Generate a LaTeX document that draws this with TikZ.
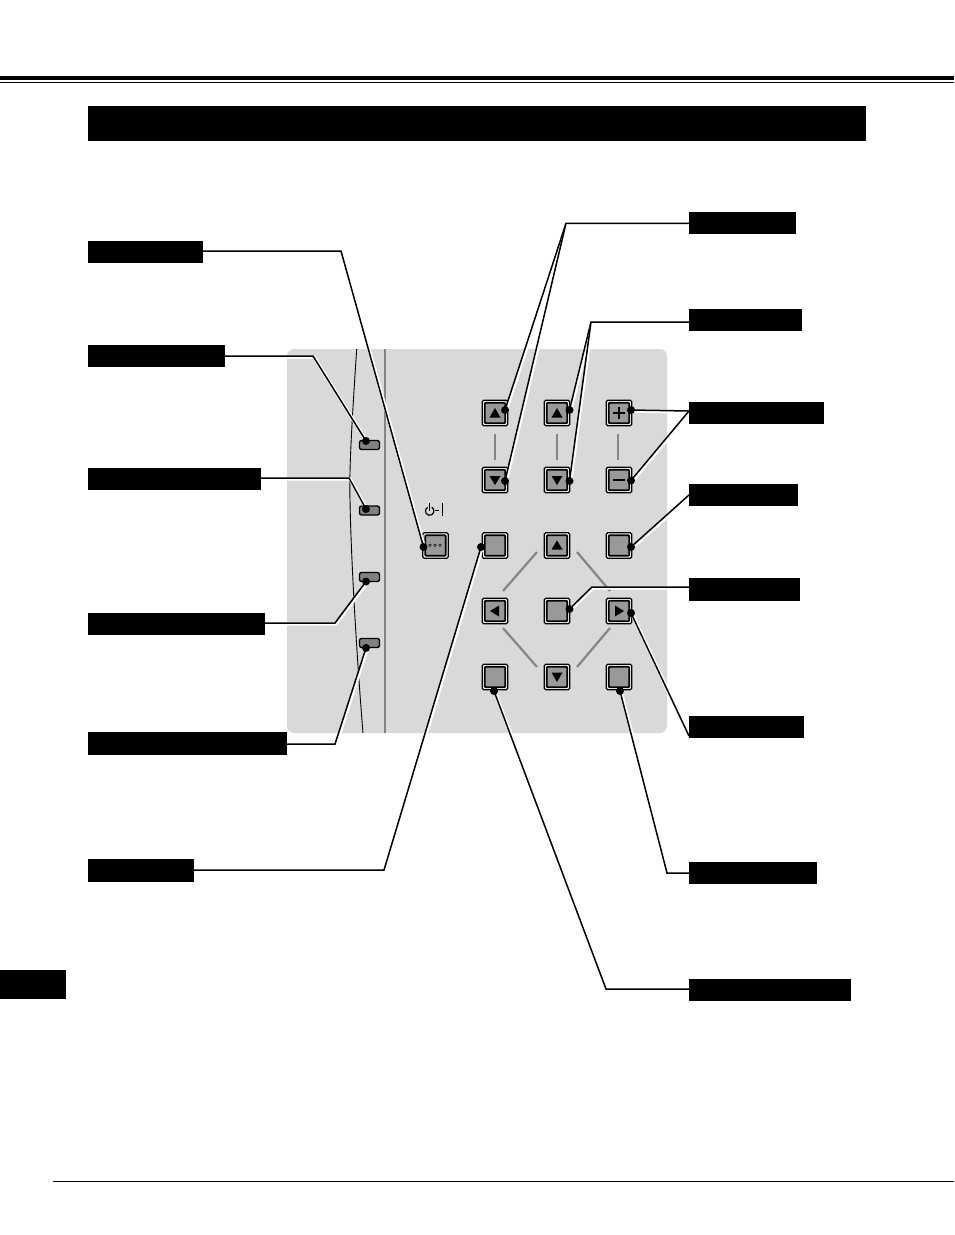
\documentclass[tikz,border=0pt]{standalone}
\definecolor{panel}{HTML}{D9D9D9}
\definecolor{linkgray}{HTML}{858585}
\definecolor{keygray}{HTML}{999999}
\definecolor{ledgray}{HTML}{808080}
\pgfdeclarelayer{back}
\pgfdeclarelayer{lead}
\pgfsetlayers{back,lead,main}
\newcommand{\keybtn}[3]{%
  \node[keyouter] (#1) at (#2,#3) {};
  \node[keyinner] (#1i) at (#2,#3) {};
}
\newcommand{\leadthree}[3]{%
  \draw[halo] ([xshift=1pt,yshift=-1pt]#1) -- ([xshift=1pt,yshift=-1pt]#2) -- ([xshift=1pt,yshift=-1pt]#3.center);
  \draw[leader] (#1) -- (#2) -- (#3.center);
}
\newcommand{\leadtwo}[2]{%
  \draw[halo] ([xshift=1pt,yshift=-1pt]#1) -- ([xshift=1pt,yshift=-1pt]#2.center);
  \draw[leader] (#1) -- (#2.center);
}
\tikzset{
  x=1pt,y=-1pt,
  lab/.style={fill=black,draw=none,inner sep=0pt,outer sep=0pt,anchor=north west},
  keyouter/.style={draw=black,line width=1.1pt,fill=white,rounded corners=1.5pt,minimum width=25.5pt,minimum height=25.5pt,inner sep=0pt,outer sep=0pt},
  keyinner/.style={draw=black,line width=1.8pt,fill=keygray,rounded corners=1pt,minimum width=20.5pt,minimum height=20.5pt,inner sep=0pt,outer sep=0pt},
  led/.style={draw=black,line width=1.3pt,fill=ledgray,rounded corners=2pt,minimum width=20pt,minimum height=9pt,inner sep=0pt,outer sep=0pt},
  dot/.style={circle,fill=black,draw=none,minimum size=8pt,inner sep=0pt,outer sep=0pt},
  link/.style={draw=linkgray,line width=2.2pt},
  tri/.style={fill=black,draw=none},
  leader/.style={draw=black,line width=1.5pt,line join=miter},
  halo/.style={draw=white,line width=3.4pt,line join=miter},
}
\begin{document}
\begin{tikzpicture}
\useasboundingbox (0,0) rectangle (954,1235);
% callout boxes and page blocks
\fill[black] (0,76) rectangle (954,79.5);
\fill[black] (0,82) rectangle (954,83);
\fill[black] (53,1181) rectangle (954,1182);
\node[lab,minimum width=778pt,minimum height=35pt] (banner) at (88,106) {};
\node[lab,minimum width=66pt,minimum height=29pt] (tab) at (0,970) {};
\node[lab,minimum width=115pt,minimum height=22pt] (lpow) at (88,241) {};
\node[lab,minimum width=137pt,minimum height=22pt] (lled1) at (88,345) {};
\node[lab,minimum width=173pt,minimum height=22pt] (lled2) at (88,468) {};
\node[lab,minimum width=177pt,minimum height=22pt] (lled3) at (88,613) {};
\node[lab,minimum width=199pt,minimum height=23pt] (lled4) at (88,732) {};
\node[lab,minimum width=106pt,minimum height=23pt] (lg) at (88,859) {};
\node[lab,minimum width=107pt,minimum height=22pt] (ra) at (689,212) {};
\node[lab,minimum width=113pt,minimum height=22pt] (rb) at (689,309) {};
\node[lab,minimum width=135pt,minimum height=22pt] (rc) at (689,402) {};
\node[lab,minimum width=109pt,minimum height=22pt] (rd) at (689,484) {};
\node[lab,minimum width=111pt,minimum height=23pt] (re) at (689,578) {};
\node[lab,minimum width=115pt,minimum height=22pt] (rf) at (689,716) {};
\node[lab,minimum width=128pt,minimum height=22pt] (rg) at (689,862) {};
\node[lab,minimum width=162pt,minimum height=22pt] (rh) at (689,979) {};
% dots
\node[dot] (dpow) at (423.5,547) {};
\node[dot] (dl1) at (366,441) {};
\node[dot] (dl2) at (366,509) {};
\node[dot] (dl3) at (366,581.5) {};
\node[dot] (dl4) at (366,648) {};
\node[dot] (dg) at (481,547) {};
\node[dot] (da1) at (505,410) {};
\node[dot] (da2) at (505,481) {};
\node[dot] (db1) at (569.5,410) {};
\node[dot] (db2) at (569.5,481) {};
\node[dot] (dc1) at (631,410) {};
\node[dot] (dc2) at (631,480.5) {};
\node[dot] (dd) at (631,547) {};
\node[dot] (de) at (569.5,609) {};
\node[dot] (df) at (631,613) {};
\node[dot] (dm) at (494,691) {};
\node[dot] (do) at (620,691) {};
% panel contents, beneath the leaders
\begin{pgfonlayer}{back}
\fill[panel,rounded corners=7pt] (287,349) rectangle (667,733);
\draw[black,line width=0.9pt] (356.7,349) .. controls (352,420) and (349,470) .. (350,500) .. controls (351,560) and (357,660) .. (363,733);
\draw[linkgray,line width=1.8pt] (385,349) -- (385,733);
\draw[link] (495,434) -- (495,460);
\draw[link] (557,434) -- (557,460);
\draw[link] (618,434) -- (618,460);
\draw[link] (537,552) -- (503,591);
\draw[link] (577,552) -- (610,591);
\draw[link] (503,628) -- (537,667);
\draw[link] (610,628) -- (577,667);
\node[led] (led1) at (369.5,445) {};
\node[led] (led2) at (369.5,510.5) {};
\node[led] (led3) at (369.5,577) {};
\node[led] (led4) at (369.5,643) {};
\draw[black,line width=1.2pt] (427.55,507.28) arc[start angle=120,end angle=420,radius=4.3pt];
\draw[black,line width=1.2pt] (429.7,503) -- (429.7,511);
\draw[black,line width=1.2pt] (434.5,510.5) -- (439,510.5);
\draw[black,line width=1.8pt] (442.5,503) -- (442.5,516);
\keybtn{kpow}{435.5}{545.5}
\foreach \cx in {430,435,440} \draw[black,line width=0.5pt] (\cx,545.3) circle[radius=1.3pt];
\keybtn{ka}{495}{413}
\keybtn{kb}{557}{413}
\keybtn{kc}{619}{413}
\keybtn{kd}{495}{480}
\keybtn{ke}{557}{480}
\keybtn{kf}{619}{480}
\keybtn{kg}{495}{545.5}
\keybtn{kh}{557}{545.5}
\keybtn{ki}{619}{545.5}
\keybtn{kj}{495}{611}
\keybtn{kk}{557}{611}
\keybtn{kl}{619}{611}
\keybtn{km}{495}{677}
\keybtn{kn}{557}{677}
\keybtn{ko}{619}{677}
\fill[tri] (495,408) -- (489.5,417.5) -- (500.5,417.5) -- cycle;
\fill[tri] (557,408) -- (551.5,417.5) -- (562.5,417.5) -- cycle;
\fill[tri] (495,485) -- (489.5,476) -- (500.5,476) -- cycle;
\fill[tri] (557,485) -- (551.5,476) -- (562.5,476) -- cycle;
\fill[tri] (557,540.5) -- (551.5,549.5) -- (562.5,549.5) -- cycle;
\fill[tri] (557,682) -- (551.5,672.5) -- (562.5,672.5) -- cycle;
\fill[tri] (490,611) -- (499,605.5) -- (499,616.5) -- cycle;
\fill[tri] (624,611) -- (615,605.5) -- (615,616.5) -- cycle;
\draw[black,line width=2.2pt] (613,413) -- (625,413) (619,407) -- (619,419);
\draw[black,line width=2.2pt] (613,480) -- (625,480);
\end{pgfonlayer}
% bends
\coordinate (bpow) at (341,251);
\coordinate (bl1) at (313,356);
\coordinate (bl2) at (349,478);
\coordinate (bl3) at (335,623);
\coordinate (bl4) at (335,744);
\coordinate (bg) at (384,870);
\coordinate (ba) at (566,223.3);
\coordinate (bb) at (591,322);
\coordinate (bc) at (664,411);
\coordinate (bd) at (664,495);
\coordinate (be) at (592,587);
\coordinate (bf) at (664,736);
\coordinate (bo) at (667,873);
\coordinate (bm) at (606,989);
% leader starts on the callout boxes
\coordinate (spow) at (bpow -| lpow.east);
\coordinate (sl1) at (bl1 -| lled1.east);
\coordinate (sl2) at (bl2 -| lled2.east);
\coordinate (sl3) at (bl3 -| lled3.east);
\coordinate (sl4) at (bl4 -| lled4.east);
\coordinate (sg) at (bg -| lg.east);
\coordinate (sa) at (ba -| ra.west);
\coordinate (sb) at (bb -| rb.west);
\coordinate (sc) at (bc -| rc.west);
\coordinate (sd) at (bd -| rd.west);
\coordinate (se) at (be -| re.west);
\coordinate (sf) at (bf -| rf.west);
\coordinate (so) at (bo -| rg.west);
\coordinate (sm) at (bm -| rh.west);
% leaders
\begin{pgfonlayer}{lead}
\leadthree{spow}{bpow}{dpow}
\leadthree{sl1}{bl1}{dl1}
\leadthree{sl2}{bl2}{dl2}
\leadthree{sl3}{bl3}{dl3}
\leadthree{sl4}{bl4}{dl4}
\leadthree{sg}{bg}{dg}
\leadthree{sa}{ba}{da1}
\leadtwo{ba}{da2}
\leadthree{sb}{bb}{db1}
\leadtwo{bb}{db2}
\leadtwo{sc}{dc1}
\leadtwo{sc}{dc2}
\leadtwo{sd}{dd}
\leadthree{se}{be}{de}
\leadtwo{sf}{df}
\leadthree{so}{bo}{do}
\leadthree{sm}{bm}{dm}
\end{pgfonlayer}
\end{tikzpicture}
\end{document}
